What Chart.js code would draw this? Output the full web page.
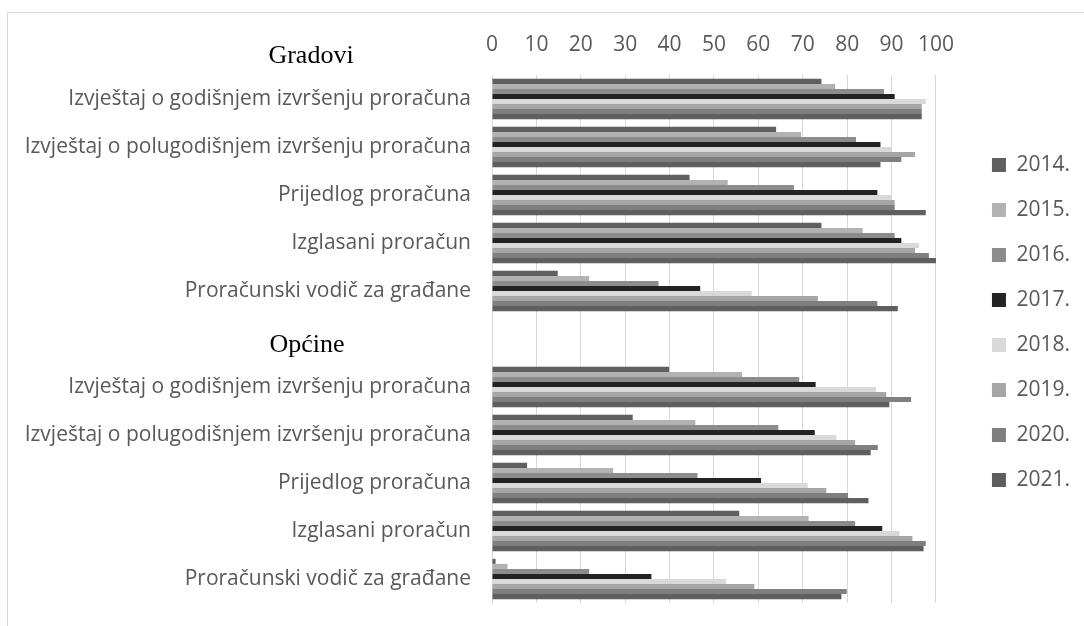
<!DOCTYPE html>
<html>
<head>
<meta charset="utf-8">
<script src="https://cdn.jsdelivr.net/npm/chart.js@4.4.0/dist/chart.umd.min.js"></script>
<style>
  html, body { margin: 0; padding: 0; background: #fff; overflow: hidden; }
  #okvir { position: absolute; left: 7px; top: 12px; right: -5px; bottom: -5px; border: 1px solid #d9d9d9; }
  #platno { position: absolute; left: 0; top: 0; width: 1084px; height: 626px; }
</style>
</head>
<body>
<div id="okvir"></div>
<div id="platno"><canvas id="grafikon"></canvas></div>
<script>
// kategorije (prazno mjesto = naslov "Općine")
const kategorije = [
    'Izvještaj o godišnjem izvršenju proračuna',
    'Izvještaj o polugodišnjem izvršenju proračuna',
    'Prijedlog proračuna',
    'Izglasani proračun',
    'Proračunski vodič za građane',
    '',
    'Izvještaj o godišnjem izvršenju proračuna',
    'Izvještaj o polugodišnjem izvršenju proračuna',
    'Prijedlog proračuna',
    'Izglasani proračun',
    'Proračunski vodič za građane'
];
const godine = ['2014.', '2015.', '2016.', '2017.', '2018.', '2019.', '2020.', '2021.'];
const boje = ['#5f5f5f', '#b2b2b2', '#8c8c8c', '#232323', '#d9d9d9', '#a6a6a6', '#7f7f7f', '#5f5f5f'];

// vrijednosti po godinama (gradovi, prazno, općine)
const v2014 = [74.2, 64.0, 44.5, 74.2, 14.8, null, 39.9, 31.7, 7.9, 55.7, 0.8];
const v2015 = [77.3, 69.6, 53.1, 83.5, 21.9, null, 56.3, 45.8, 27.3, 71.3, 3.5];
const v2016 = [88.3, 82.0, 68.0, 90.7, 37.5, null, 69.2, 64.5, 46.3, 81.8, 21.9];
const v2017 = [90.7, 87.5, 86.8, 92.2, 46.9, null, 72.9, 72.7, 60.6, 87.9, 35.9];
const v2018 = [97.7, 90.0, 90.0, 96.2, 58.5, null, 86.5, 77.6, 71.1, 91.8, 52.7];
const v2019 = [96.8, 95.3, 90.7, 95.3, 73.4, null, 88.8, 81.8, 75.3, 94.7, 59.1];
const v2020 = [96.8, 92.2, 90.7, 98.4, 86.8, null, 94.4, 86.9, 80.2, 97.7, 79.9];
const v2021 = [96.8, 87.5, 97.7, 100, 91.4, null, 89.5, 85.3, 84.8, 97.2, 78.7];
const vrijednosti = [v2014, v2015, v2016, v2017, v2018, v2019, v2020, v2021];

const xOznake = [0, 10, 20, 30, 40, 50, 60, 70, 80, 90, 100];

const RAZMAK = 36; // prazan prostor između grafa i legende
const POMAK_LEGENDE = 21;

const naslovi = {
    id: 'naslovi',
    afterInit(chart) {
        const leg = chart.legend;
        const fit = leg.fit.bind(leg);
        leg.fit = function () { fit(); this.width += RAZMAK; };
    },
    afterLayout(chart) {
        const leg = chart.legend;
        leg.left += RAZMAK - 4;
        leg.width -= RAZMAK - 4;
        leg.top += POMAK_LEGENDE;
        leg.bottom += POMAK_LEGENDE;
    },
    afterDraw(chart) {
        const { ctx } = chart;
        const y = chart.scales.y;
        ctx.save();
        ctx.font = '26px "Liberation Serif"';
        ctx.fillStyle = '#000';
        ctx.textAlign = 'center';
        ctx.textBaseline = 'middle';
        ctx.fillText('Gradovi', 311, y.top - 19);
        ctx.fillText('Općine', 307, y.getPixelForValue(5) + 6);
        ctx.restore();
    }
};

const ctx = document.getElementById('grafikon').getContext('2d');
new Chart(ctx, {
    type: 'bar',
    data: {
        labels: kategorije,
        datasets: godine.map((g, i) => ({
            label: g,
            data: vrijednosti[i],
            backgroundColor: boje[i],
            borderWidth: 0,
            categoryPercentage: 0.84,
            barPercentage: 1.0
        }))
    },
    options: {
        indexAxis: 'y',
        responsive: true,
        maintainAspectRatio: false,
        animation: false,
        layout: { padding: { top: 0, right: 0, bottom: 23, left: 0 } },
        scales: {
            x: {
                position: 'top',
                min: 0,
                max: 100,
                afterBuildTicks: s => { s.ticks = xOznake.map(v => ({ value: v })); },
                afterFit: s => { s.height = 75; },
                grid: { color: '#d9d9d9', drawTicks: false },
                border: { display: false },
                ticks: { color: '#595959', font: { family: 'Open Sans', size: 21 }, padding: 17 }
            },
            y: {
                afterFit: s => { s.width = 492; s.paddingTop = 0; s.paddingBottom = 0; },
                grid: { display: false, drawTicks: false },
                border: { color: '#d9d9d9' },
                ticks: { color: '#595959', font: { family: 'Open Sans', size: 21 }, padding: 21, autoSkip: false }
            }
        },
        plugins: {
            legend: {
                position: 'right',
                labels: {
                    color: '#595959',
                    font: { family: 'Open Sans', size: 21 },
                    boxWidth: 14,
                    boxHeight: 14,
                    padding: 24
                }
            },
            tooltip: { enabled: false }
        }
    },
    plugins: [naslovi]
});
</script>
</body>
</html>
